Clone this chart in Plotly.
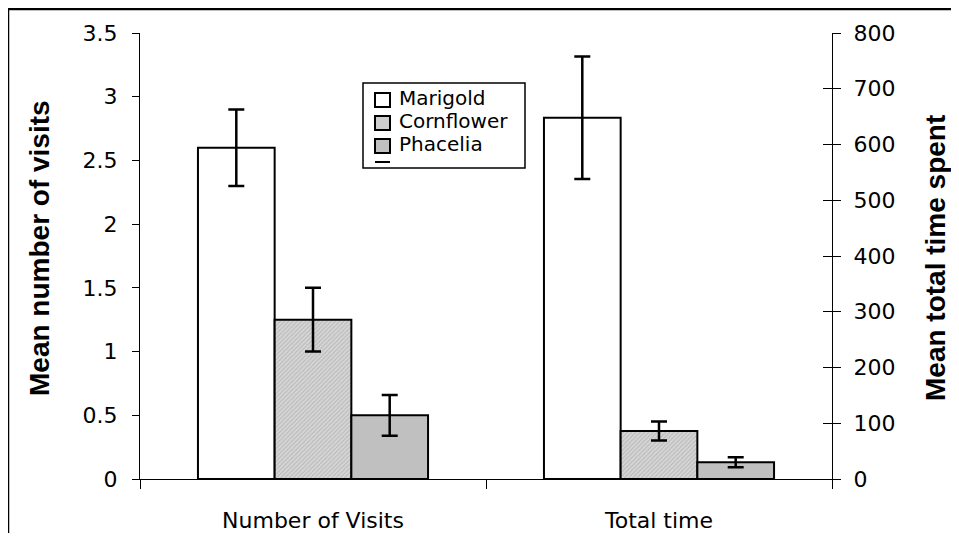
import plotly.graph_objects as go

categories = ["Number of Visits", "Total time"]
series = ["Marigold", "Cornflower", "Phacelia"]
visits_mean = [2.6, 1.25, 0.5]
visits_err = [0.3, 0.25, 0.16]
time_mean = [648, 86, 30]
time_err = [110, 17, 9]
left_ticks = [0, 0.5, 1, 1.5, 2, 2.5, 3, 3.5]
right_ticks = [0, 100, 200, 300, 400, 500, 600, 700, 800]

# page has an 8px body margin on every side; keep the figure inside the viewport
OFF = 8
W, H = 959 - 2 * OFF, 541 - 2 * OFF
L, T = 140 - OFF, 33 - OFF
pw, ph = 692, 446
R = W - L - pw
B = H - T - ph

def px_x(p):
    return (p - OFF - L) / pw

def px_y(p):
    return (T + ph - (p - OFF)) / ph

fills = ["white", "#cfcfcf", "#c0c0c0"]
patterns = [None,
            dict(shape="/", fgcolor="#9a9a9a", bgcolor="#d6d6d6", size=3, solidity=0.35),
            None]

fig = go.Figure()
for i, name in enumerate(series):
    marker = dict(color=fills[i], line=dict(color="black", width=2))
    if patterns[i]:
        marker["pattern"] = patterns[i]
    fig.add_trace(go.Bar(
        x=[categories[0]], y=[visits_mean[i]], name=name, yaxis="y",
        offsetgroup=str(i), marker=marker, showlegend=False,
        error_y=dict(type="data", array=[visits_err[i]], color="black", thickness=2.5, width=8),
    ))
    fig.add_trace(go.Bar(
        x=[categories[1]], y=[time_mean[i]], name=name, yaxis="y2",
        offsetgroup=str(i), marker=marker, showlegend=False,
        error_y=dict(type="data", array=[time_err[i]], color="black", thickness=2.5, width=8),
    ))

fig.add_trace(go.Scatter(x=[categories[0]], y=[None], yaxis="y3", showlegend=False, hoverinfo="skip"))

tickfont = dict(family="DejaVu Sans", size=22, color="black")

shapes = [
    dict(type="rect", xref="paper", yref="paper",
         x0=px_x(8), x1=px_x(964), y0=px_y(546), y1=px_y(9),
         line=dict(color="black", width=2.5), fillcolor="rgba(0,0,0,0)", layer="above"),
    dict(type="rect", xref="paper", yref="paper",
         x0=px_x(363), x1=px_x(525), y0=px_y(168), y1=px_y(83),
         line=dict(color="black", width=1.5), fillcolor="white", layer="above"),
]
sw_tops = [93, 116, 139]
for i in range(3):
    shapes.append(dict(type="rect", xref="paper", yref="paper",
                       x0=px_x(375), x1=px_x(390), y0=px_y(sw_tops[i] + 14), y1=px_y(sw_tops[i]),
                       line=dict(color="black", width=2), fillcolor=fills[i], layer="above"))
shapes.append(dict(type="line", xref="paper", yref="paper",
                   x0=px_x(375), x1=px_x(390), y0=px_y(162), y1=px_y(162),
                   line=dict(color="black", width=2), layer="above"))

annotations = [
    dict(text="<b>Mean number of visits</b>", textangle=-90, xref="paper", yref="paper",
         x=px_x(40), y=px_y(248), xanchor="center", yanchor="middle", showarrow=False,
         font=dict(family="Liberation Sans", size=28, color="black")),
    dict(text="<b>Mean total time spent</b>", textangle=-90, xref="paper", yref="paper",
         x=px_x(935), y=px_y(258), xanchor="center", yanchor="middle", showarrow=False,
         font=dict(family="Liberation Sans", size=28, color="black")),
]
text_y = [98, 121, 144]
for i, name in enumerate(series):
    annotations.append(dict(text=name, xref="paper", yref="paper",
                            x=px_x(397), y=px_y(text_y[i]), xanchor="left", yanchor="middle",
                            showarrow=False,
                            font=dict(family="DejaVu Sans", size=20, color="black")))

fig.update_layout(
    width=W, height=H,
    margin=dict(l=L, r=R, t=T, b=B, autoexpand=False),
    paper_bgcolor="white", plot_bgcolor="white",
    barmode="group", bargap=0.335, bargroupgap=0,
    showlegend=False,
    xaxis=dict(
        type="category", categoryorder="array", categoryarray=categories,
        showline=True, linecolor="black", linewidth=1, automargin=False,
        ticks="outside", tickson="boundaries", ticklen=9, tickcolor="black",
        tickfont=tickfont, ticklabelstandoff=22, showgrid=False,
    ),
    yaxis=dict(
        range=[0, 3.5], tickvals=left_ticks, showline=True, linecolor="black", linewidth=1,
        ticks="outside", ticklen=7, tickcolor="black", tickfont=tickfont, automargin=False,
        ticklabelstandoff=10, showgrid=False, zeroline=False,
    ),
    yaxis2=dict(
        range=[0, 800], tickvals=right_ticks, overlaying="y", side="right", anchor="x",
        showline=True, linecolor="black", linewidth=1, automargin=False,
        ticks="outside", ticklen=8, tickcolor="black", tickfont=tickfont,
        ticklabelstandoff=8, showgrid=False, zeroline=False,
    ),
    yaxis3=dict(
        range=[0, 800], tickvals=right_ticks, overlaying="y", side="right", anchor="x",
        showline=False, ticks="inside", ticklen=9, tickcolor="black", automargin=False,
        showticklabels=False, showgrid=False, zeroline=False,
    ),
    shapes=shapes,
    annotations=annotations,
)

fig.write_html("out.html")
